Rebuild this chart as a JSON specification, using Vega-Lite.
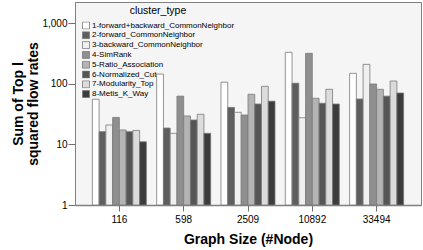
{
  "$schema": "https://vega.github.io/schema/vega-lite/v6.json",
  "width": 346,
  "height": 203,
  "autosize": {"type": "none"},
  "padding": {"left": 75, "top": 2, "right": 2, "bottom": 45},
  "background": "#ffffff",
  "config": {
    "font": "Liberation Sans",
    "view": {"fill": "#f5f5f5", "stroke": "#808080", "strokeWidth": 1}
  },
  "data": {
    "values": [
      {"size": "116", "type": "1-forward+backward_CommonNeighbor", "v": 56},
      {"size": "116", "type": "2-forward_CommonNeighbor", "v": 16.3},
      {"size": "116", "type": "3-backward_CommonNeighbor", "v": 21},
      {"size": "116", "type": "4-SimRank", "v": 28},
      {"size": "116", "type": "5-Ratio_Association", "v": 17.4},
      {"size": "116", "type": "6-Normalized_Cut", "v": 16.3},
      {"size": "116", "type": "7-Modularity_Top", "v": 17.1},
      {"size": "116", "type": "8-Metis_K_Way", "v": 11.1},
      {"size": "598", "type": "1-forward+backward_CommonNeighbor", "v": 146},
      {"size": "598", "type": "2-forward_CommonNeighbor", "v": 18.7},
      {"size": "598", "type": "3-backward_CommonNeighbor", "v": 15.3},
      {"size": "598", "type": "4-SimRank", "v": 63},
      {"size": "598", "type": "5-Ratio_Association", "v": 29.6},
      {"size": "598", "type": "6-Normalized_Cut", "v": 25.4},
      {"size": "598", "type": "7-Modularity_Top", "v": 31.6},
      {"size": "598", "type": "8-Metis_K_Way", "v": 15.3},
      {"size": "2509", "type": "1-forward+backward_CommonNeighbor", "v": 107},
      {"size": "2509", "type": "2-forward_CommonNeighbor", "v": 41},
      {"size": "2509", "type": "3-backward_CommonNeighbor", "v": 34},
      {"size": "2509", "type": "4-SimRank", "v": 30.7},
      {"size": "2509", "type": "5-Ratio_Association", "v": 67.6},
      {"size": "2509", "type": "6-Normalized_Cut", "v": 46.7},
      {"size": "2509", "type": "7-Modularity_Top", "v": 91.6},
      {"size": "2509", "type": "8-Metis_K_Way", "v": 52},
      {"size": "10892", "type": "1-forward+backward_CommonNeighbor", "v": 334},
      {"size": "10892", "type": "2-forward_CommonNeighbor", "v": 103},
      {"size": "10892", "type": "3-backward_CommonNeighbor", "v": 27.7},
      {"size": "10892", "type": "4-SimRank", "v": 321},
      {"size": "10892", "type": "5-Ratio_Association", "v": 58},
      {"size": "10892", "type": "6-Normalized_Cut", "v": 48},
      {"size": "10892", "type": "7-Modularity_Top", "v": 81.7},
      {"size": "10892", "type": "8-Metis_K_Way", "v": 46.7},
      {"size": "33494", "type": "1-forward+backward_CommonNeighbor", "v": 150},
      {"size": "33494", "type": "2-forward_CommonNeighbor", "v": 56.5},
      {"size": "33494", "type": "3-backward_CommonNeighbor", "v": 211},
      {"size": "33494", "type": "4-SimRank", "v": 100},
      {"size": "33494", "type": "5-Ratio_Association", "v": 81.7},
      {"size": "33494", "type": "6-Normalized_Cut", "v": 63},
      {"size": "33494", "type": "7-Modularity_Top", "v": 112},
      {"size": "33494", "type": "8-Metis_K_Way", "v": 71}
    ]
  },
  "mark": {"type": "bar", "stroke": "#7a7a7a", "strokeWidth": 0.8},
  "encoding": {
    "x": {
      "field": "size",
      "type": "ordinal",
      "sort": ["116", "598", "2509", "10892", "33494"],
      "scale": {"paddingInner": 0.16, "paddingOuter": 0.27},
      "axis": {
        "title": "Graph Size (#Node)",
        "titleFontSize": 14,
        "titleFontWeight": "bold",
        "titleColor": "#000000",
        "titlePadding": 8,
        "labelFontSize": 10,
        "labelColor": "#000000",
        "labelAngle": 0,
        "labelPadding": 3,
        "tickColor": "#707070",
        "tickSize": 6,
        "domainColor": "#808080",
        "domainWidth": 1.5
      }
    },
    "xOffset": {
      "field": "type",
      "type": "nominal",
      "scale": {"paddingInner": 0, "paddingOuter": 0}
    },
    "y": {
      "field": "v",
      "type": "quantitative",
      "scale": {"type": "log", "domain": [1, 2265], "nice": false},
      "axis": {
        "title": ["Sum of Top l", "squared flow rates"],
        "titleFontSize": 14,
        "titleFontWeight": "bold",
        "titleColor": "#000000",
        "titleLineHeight": 15,
        "titlePadding": 1,
        "values": [1, 10, 100, 1000],
        "format": ",",
        "labelFontSize": 10,
        "labelColor": "#000000",
        "labelPadding": 1,
        "tickColor": "#707070",
        "tickSize": 7,
        "grid": false,
        "domainColor": "#808080"
      }
    },
    "y2": {"datum": 1},
    "fill": {
      "field": "type",
      "type": "nominal",
      "scale": {
        "domain": [
          "1-forward+backward_CommonNeighbor",
          "2-forward_CommonNeighbor",
          "3-backward_CommonNeighbor",
          "4-SimRank",
          "5-Ratio_Association",
          "6-Normalized_Cut",
          "7-Modularity_Top",
          "8-Metis_K_Way"
        ],
        "range": ["#ffffff", "#5e5e5e", "#f0f0f0", "#8f8f8f", "#b4b4b4", "#555555", "#dcdcdc", "#3c3c3c"]
      },
      "legend": {
        "title": "cluster_type",
        "orient": "none",
        "legendX": 7,
        "legendY": 4,
        "titleFontSize": 10.5,
        "titleFontWeight": "normal",
        "titleColor": "#000000",
        "titleAnchor": "middle",
        "titleAlign": "center",
        "titlePadding": 5,
        "labelFontSize": 8,
        "labelColor": "#000000",
        "labelOffset": 2,
        "symbolType": "square",
        "symbolSize": 49,
        "symbolStrokeColor": "#7a7a7a",
        "symbolStrokeWidth": 0.8,
        "clipHeight": 8,
        "rowPadding": 1.8,
        "labelLimit": 300
      }
    }
  }
}
